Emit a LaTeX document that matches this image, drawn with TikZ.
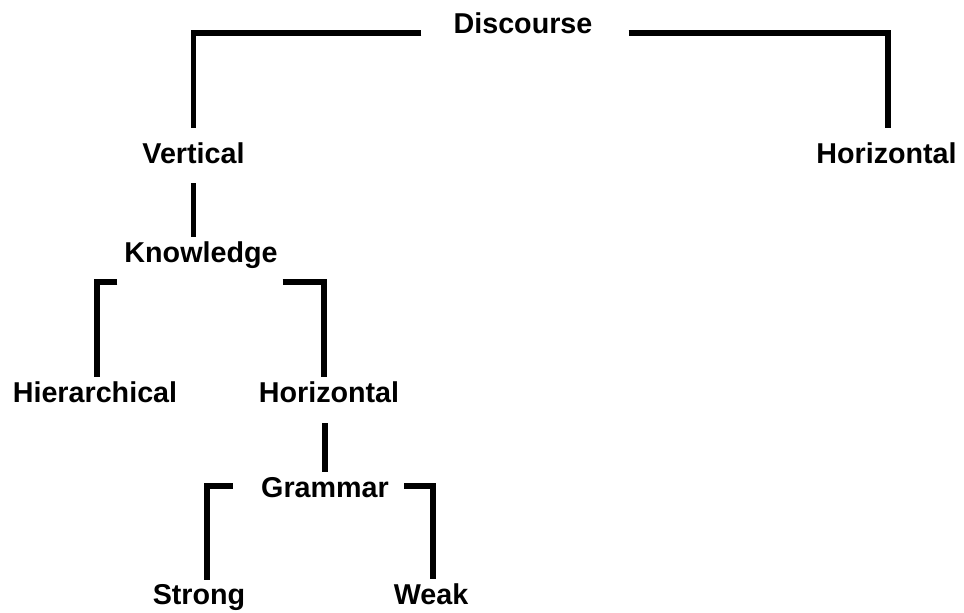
\documentclass[tikz,border=0pt]{standalone}
\usepackage{fontspec}
\setmainfont{Liberation Sans}
\begin{document}
\begin{tikzpicture}[x=1pt,y=-1pt,
  lbl/.style={inner sep=0pt,anchor=base,font=\fontsize{28.7}{30}\selectfont\bfseries},
  conn/.style={line width=5.2pt,line join=miter}]
\useasboundingbox (0,0) rectangle (964,613);
\node[lbl] (disc) at (523,33) {Discourse};
\node[lbl] (vert) at (193.5,163) {Vertical};
\node[lbl] (horR) at (886.5,163) {Horizontal};
\node[lbl] (know) at (201,262) {Knowledge};
\node[lbl] (hier) at (95,402) {Hierarchical};
\node[lbl] (horM) at (329,402) {Horizontal};
\node[lbl] (gram) at (325,497) {Grammar};
\node[lbl] (strong) at (199,604) {Strong};
\node[lbl] (weak) at (431,604) {Weak};
% Discourse branches
\draw[conn] ([xshift=-32pt]disc.base west) -| ([yshift=14pt]vert.north);
\draw[conn] ([xshift=36pt]disc.base east) -| ([xshift=1.5pt,yshift=14pt]horR.north);
% Vertical -> Knowledge
\draw[conn] ([yshift=-20pt]vert.base) -- ([yshift=4pt]vert.base |- know.north);
% Knowledge branches
\draw[conn] ([xshift=-7pt,yshift=-20pt]know.base west) -| ([xshift=2pt,yshift=4pt]hier.north);
\draw[conn] ([xshift=5pt,yshift=-20pt]know.base east) -| ([xshift=-5pt,yshift=4pt]horM.north);
% Horizontal -> Grammar
\draw[conn] ([xshift=-4pt,yshift=-21pt]horM.base) -- ([xshift=-4pt,yshift=5pt]horM.base |- gram.north);
% Grammar branches
\draw[conn] ([xshift=-28pt,yshift=11pt]gram.base west) -| ([xshift=8pt,yshift=4pt]strong.north);
\draw[conn] ([xshift=15pt,yshift=11pt]gram.base east) -| ([xshift=2pt,yshift=4pt]weak.north);
\end{tikzpicture}
\end{document}
